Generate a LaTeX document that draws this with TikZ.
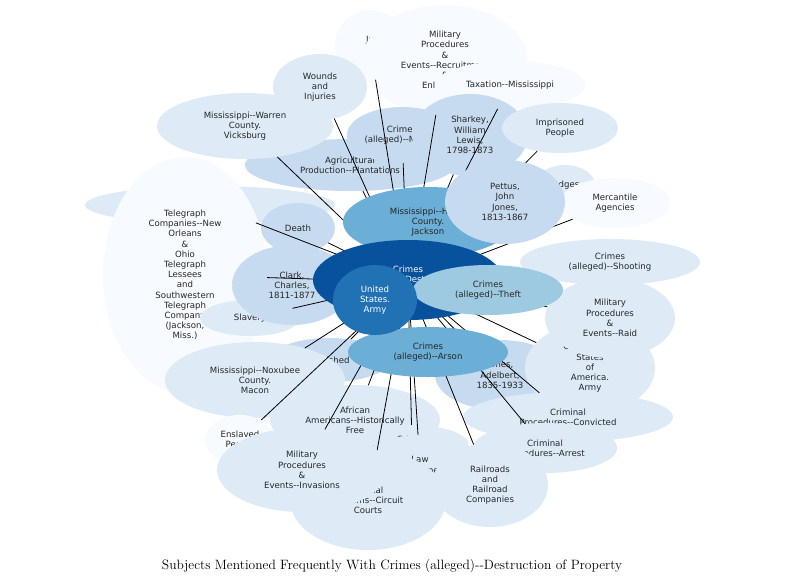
\documentclass[tikz,border=0pt]{standalone}
\usepackage{fontspec}
\newfontfamily\dv{DejaVu Sans}
\usetikzlibrary{shapes.geometric}
\definecolor{c1}{HTML}{F7FBFF}
\definecolor{c2}{HTML}{DEEBF7}
\definecolor{c3}{HTML}{C6DBEF}
\definecolor{c4}{HTML}{9ECAE1}
\definecolor{c5}{HTML}{6BAED6}
\definecolor{c6}{HTML}{2171B5}
\definecolor{c7}{HTML}{08519C}
\tikzset{bub/.style={ellipse,inner sep=0pt,align=center,font=\dv\fontsize{8.6}{10.2}\selectfont,text=black!85},
 edge/.style={black,line width=0.8pt}}
\newcommand{\bb}[7]{\node[bub,fill=#4,minimum width=#5pt,minimum height=#6pt] (#1) at (#2,#3) {#7};}
\begin{document}
\begin{tikzpicture}[x=1pt,y=-1pt]
\useasboundingbox[fill=white] (0,0) rectangle (785,587);
\bb{ju}{370}{45}{c1}{70}{70}{Ju\\J}
\bb{rec}{445}{60}{c1}{165}{110}{Military\\Procedures\\\&\\Events--Recruitment\\\&\\Enlistment}
\bb{tax}{510}{85}{c1}{150}{48}{Taxation--Mississippi}
\bb{wou}{320}{87}{c2}{94}{66}{Wounds\\and\\Injuries}
\bb{agr}{350}{165}{c3}{210}{52}{Agricultural\\Production--Plantations}
\bb{war}{245}{126}{c2}{176}{66}{Mississippi--Warren\\County.\\Vicksburg}
\bb{cri}{402}{135}{c3}{110}{56}{Crimes\\(alleged)--Murder}
\bb{sha}{470}{135}{c3}{116}{82}{Sharkey,\\William\\Lewis,\\1798-1873}
\bb{imp}{560}{128}{c2}{116}{50}{Imprisoned\\People}
\bb{jud}{565}{185}{c2}{60}{40}{Judges}
\bb{mer}{615}{203}{c1}{110}{50}{Mercantile\\Agencies}
\bb{pol}{210}{205}{c2}{250}{38}{Political}
\bb{tel}{185}{275}{c1}{164}{236}{Telegraph\\Companies--New\\Orleans\\\&\\Ohio\\Telegraph\\Lessees\\and\\Southwestern\\Telegraph\\Company\\(Jackson,\\Miss.)}
\bb{dea}{298}{228}{c3}{74}{50}{Death}
\bb{sho}{610}{262}{c2}{180}{46}{Crimes\\(alleged)--Shooting}
\bb{sla}{250}{318}{c2}{100}{36}{Slavery}
\bb{cla}{292}{285}{c3}{120}{80}{Clark,\\Charles,\\1811-1877}
\bb{ame}{500}{375}{c3}{130}{70}{Ames,\\Adelbert,\\1835-1933}
\bb{csa}{590}{368}{c2}{130}{90}{Confederate\\States\\of\\America.\\Army}
\bb{rai}{610}{318}{c2}{130}{80}{Military\\Procedures\\\&\\Events--Raid}
\bb{pun}{330}{360}{c3}{120}{44}{Punished}
\bb{nox}{255}{380}{c2}{180}{76}{Mississippi--Noxubee\\County.\\Macon}
\bb{con}{568}{417}{c2}{210}{50}{Criminal\\Procedures--Convicted}
\bb{arr}{545}{448}{c2}{144}{50}{Criminal\\Procedures--Arrest}
\bb{afr}{355}{420}{c2}{170}{70}{African\\Americans--Historically\\Free}
\bb{ens}{240}{440}{c1}{70}{50}{Enslaved\\People}
\bb{mur}{412}{445}{c2}{100}{40}{Crimes\\(alleged)--Robbery}
\bb{law}{420}{465}{c2}{120}{60}{Law\\Enforcement}
\bb{cir}{368}{500}{c2}{156}{100}{Judicial\\Systems--Circuit\\Courts}
\bb{inv}{302}{470}{c2}{170}{84}{Military\\Procedures\\\&\\Events--Invasions}
\bb{rrc}{490}{485}{c2}{116}{84}{Railroads\\and\\Railroad\\Companies}
\coordinate (ctr) at (408,282);
\foreach \t in {ju,rec,tax,wou,agr,war,cri,sha,imp,jud,mer,pol,tel,dea,sho,sla,cla,ame,csa,rai,pun,nox,con,arr,afr,ens,mur,law,cir,inv,rrc}
  \draw[edge] (ctr) -- (\t);
\bb{jac}{428}{222}{c5}{170}{70}{Mississippi--Hinds\\County.\\Jackson}
\bb{pet}{505}{202}{c3}{120}{84}{Pettus,\\John\\Jones,\\1813-1867}
\bb{arn}{428}{352}{c5}{160}{50}{Crimes\\(alleged)--Arson}
\node[bub,fill=c7,minimum width=190pt,minimum height=80pt,text=white] (dest) at (408,280) {Crimes\\(alleged)--Destruction\\of Property};
\bb{the}{488}{290}{c4}{150}{50}{Crimes\\(alleged)--Theft}
\node[bub,fill=c6,minimum width=84pt,minimum height=70pt,text=white] (usa) at (375,300) {United\\States.\\Army};
\node[font=\fontsize{13.5}{15}\selectfont] (title) at (392,566) {Subjects Mentioned Frequently With Crimes (alleged)-{}-Destruction of Property};
\end{tikzpicture}
\end{document}
